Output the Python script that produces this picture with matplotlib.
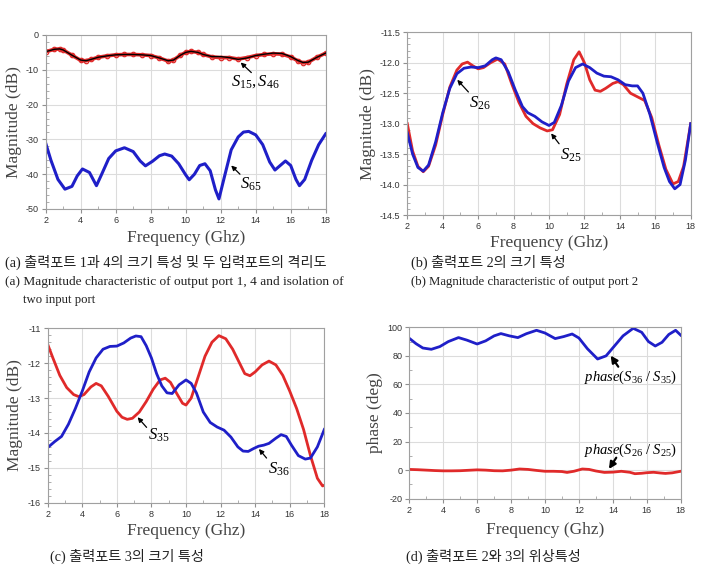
import matplotlib
matplotlib.use("Agg")
import matplotlib.pyplot as plt
from matplotlib.ticker import MultipleLocator

plt.rcParams['mathtext.fontset'] = 'custom'
plt.rcParams['mathtext.it'] = 'Liberation Serif:italic'
plt.rcParams['mathtext.rm'] = 'Liberation Serif'
plt.rcParams['font.family'] = ['Liberation Sans', 'DejaVu Sans']

RED = '#e02a2a'
BLUE = '#1f1fc8'

# ---------------- data ----------------
# (a)
fa15 = [2.0, 2.5, 2.8, 3.0, 3.5, 4.0, 4.3, 4.6, 5.0, 5.5, 6.0, 6.5, 7.0, 7.5, 8.0, 8.5, 9.0, 9.3, 9.7,
        10.0, 10.3, 10.7, 11.0, 11.5, 12.0, 12.5, 13.0, 13.5, 14.0, 14.5, 15.0, 15.5, 16.0, 16.4, 16.7,
        17.0, 17.5, 18.0]
s15 = [-4.8, -4.1, -4.0, -4.3, -5.8, -7.3, -7.4, -7.0, -6.4, -6.0, -5.7, -5.6, -5.6, -5.7, -5.9, -6.6,
       -7.5, -7.2, -5.8, -5.0, -4.7, -5.0, -5.6, -6.3, -6.5, -6.5, -6.9, -6.5, -5.9, -5.6, -5.4, -5.5,
       -6.3, -7.4, -8.0, -7.8, -6.4, -5.2]
s46 = [-4.8, -4.1, -4.0, -4.3, -5.8, -7.2, -7.4, -7.0, -6.4, -6.0, -5.7, -5.6, -5.6, -5.7, -5.9, -6.6,
       -7.4, -7.2, -5.8, -5.0, -4.7, -5.0, -5.6, -6.2, -6.2, -6.5, -7.0, -6.6, -5.9, -5.5, -5.2, -5.3,
       -6.2, -7.3, -7.9, -7.8, -6.4, -5.2]
fa65 = [2.0, 2.3, 2.7, 3.1, 3.5, 3.8, 4.1, 4.5, 4.9, 5.2, 5.6, 6.0, 6.5, 7.0, 7.4, 7.7, 8.1, 8.5, 8.8,
        9.2, 9.6, 10.0, 10.2, 10.5, 10.8, 11.1, 11.4, 11.7, 11.9, 12.2, 12.6, 13.0, 13.3, 13.6, 14.0,
        14.4, 14.8, 15.1, 15.4, 15.7, 16.0, 16.3, 16.5, 16.8, 17.2, 17.6, 18.0]
s65 = [-31.1, -36.0, -41.5, -44.3, -43.5, -40.5, -38.5, -39.5, -43.3, -40.0, -35.5, -33.3, -32.4, -33.5,
       -36.2, -37.6, -36.3, -34.7, -34.2, -34.8, -37.0, -40.2, -41.6, -40.0, -37.5, -37.0, -39.0, -44.5,
       -47.1, -41.0, -33.0, -29.3, -27.9, -27.7, -28.7, -31.5, -36.5, -38.8, -37.5, -36.2, -37.5, -41.5,
       -43.3, -41.5, -36.0, -31.5, -28.4]

# (b)
fb25 = [2, 2.3, 2.6, 2.9, 3.2, 3.6, 4.0, 4.4, 4.8, 5.1, 5.4, 5.7, 6.0, 6.3, 6.7, 7.1, 7.5, 7.9, 8.3, 8.7,
        9.1, 9.5, 9.9, 10.2, 10.6, 11.0, 11.4, 11.7, 12.0, 12.3, 12.6, 12.9, 13.2, 13.6, 13.9, 14.2, 14.6,
        15.0, 15.4, 15.8, 16.2, 16.6, 17.0, 17.3, 17.6, 18.0]
s25 = [-13.0, -13.45, -13.7, -13.79, -13.7, -13.35, -12.85, -12.4, -12.12, -12.02, -11.99, -12.05, -12.1,
       -12.08, -12.0, -11.94, -12.02, -12.35, -12.65, -12.88, -13.0, -13.07, -13.12, -13.1, -12.85, -12.35,
       -11.95, -11.82, -12.0, -12.28, -12.45, -12.47, -12.42, -12.34, -12.31, -12.36, -12.5, -12.56,
       -12.62, -12.9, -13.35, -13.75, -13.99, -13.95, -13.7, -13.0]
fb26 = [2, 2.3, 2.6, 2.9, 3.2, 3.6, 4.0, 4.4, 4.8, 5.2, 5.6, 6.0, 6.4, 6.8, 7.0, 7.3, 7.7, 8.1, 8.5, 8.8,
        9.2, 9.6, 10.0, 10.3, 10.7, 11.1, 11.5, 11.9, 12.3, 12.7, 13.1, 13.5, 13.9, 14.3, 14.7, 15.0, 15.3,
        15.7, 16.1, 16.5, 16.8, 17.1, 17.4, 17.7, 18.0]
s26 = [-13.15, -13.5, -13.72, -13.78, -13.68, -13.3, -12.82, -12.42, -12.18, -12.09, -12.07, -12.08,
       -12.05, -11.95, -11.92, -11.95, -12.15, -12.45, -12.72, -12.82, -12.88, -12.97, -13.03, -12.98,
       -12.7, -12.3, -12.08, -12.02, -12.08, -12.17, -12.22, -12.23, -12.28, -12.36, -12.38, -12.38,
       -12.5, -12.85, -13.3, -13.72, -13.95, -14.07, -14.0, -13.6, -13.0]

# (c)
fc35 = [2, 2.3, 2.7, 3.1, 3.5, 3.8, 4.1, 4.5, 4.8, 5.1, 5.5, 6.0, 6.3, 6.6, 6.9, 7.3, 7.7, 8.1, 8.5, 8.8,
        9.1, 9.5, 9.8, 10.0, 10.3, 10.7, 11.1, 11.5, 11.9, 12.3, 12.7, 13.1, 13.4, 13.7, 14.0, 14.4, 14.8,
        15.2, 15.6, 16.0, 16.4, 16.8, 17.2, 17.6, 17.9, 18.0]
s35 = [-11.46, -11.85, -12.35, -12.7, -12.9, -12.96, -12.9, -12.68, -12.58, -12.65, -12.95, -13.38,
       -13.55, -13.61, -13.58, -13.4, -13.1, -12.75, -12.48, -12.43, -12.55, -12.9, -13.15, -13.2, -13.0,
       -12.4, -11.8, -11.4, -11.21, -11.3, -11.6, -12.0, -12.3, -12.36, -12.25, -12.05, -11.94, -12.05,
       -12.35, -12.8, -13.3, -13.9, -14.65, -15.3, -15.52, -15.5]
fc36 = [2, 2.4, 2.8, 3.2, 3.6, 4.0, 4.4, 4.8, 5.2, 5.6, 6.0, 6.4, 6.8, 7.1, 7.4, 7.7, 8.0, 8.3, 8.6, 8.9,
        9.2, 9.6, 10.0, 10.3, 10.6, 11.0, 11.4, 11.8, 12.2, 12.6, 13.0, 13.3, 13.6, 13.9, 14.2, 14.5, 14.8,
        15.2, 15.5, 15.8, 16.1, 16.5, 16.9, 17.2, 17.6, 18.0]
s36 = [-14.42, -14.25, -14.1, -13.75, -13.3, -12.8, -12.25, -11.85, -11.6, -11.52, -11.51, -11.42,
       -11.28, -11.22, -11.24, -11.5, -11.85, -12.3, -12.65, -12.85, -12.87, -12.62, -12.48, -12.58,
       -12.85, -13.4, -13.7, -13.83, -13.92, -14.12, -14.4, -14.52, -14.53, -14.45, -14.38, -14.35,
       -14.3, -14.15, -14.05, -14.1, -14.35, -14.65, -14.75, -14.72, -14.4, -13.9]

# (d)
fd36 = [2, 2.4, 2.8, 3.3, 3.8, 4.3, 4.9, 5.4, 6.0, 6.5, 7.0, 7.4, 7.9, 8.4, 8.9, 9.5, 10.0, 10.6, 11.1,
        11.6, 12.0, 12.5, 13.1, 13.6, 14.1, 14.6, 15.2, 15.7, 16.1, 16.5, 16.9, 17.3, 17.7, 18.0]
ph36 = [92.3, 88.5, 85.5, 84.6, 86.5, 90.0, 92.8, 91.0, 88.3, 90.5, 94.0, 95.6, 94.0, 92.8, 95.5, 97.9,
        96.0, 92.1, 93.5, 95.3, 92.5, 85.0, 77.8, 80.0, 87.0, 94.0, 99.3, 96.5, 90.0, 86.9, 89.5, 95.0,
        97.9, 94.5]
fd26 = [2, 2.5, 3, 3.5, 4, 4.5, 5, 5.5, 6, 6.5, 7, 7.5, 8, 8.5, 9, 9.5, 10, 10.5, 11, 11.3, 11.7, 12.2,
        12.6, 13.0, 13.5, 14.0, 14.5, 15.0, 15.3, 15.7, 16.0, 16.4, 16.8, 17.1, 17.5, 18.0]
ph26 = [0.5, 0.3, 0, -0.3, -0.5, -0.5, -0.4, -0.1, 0.2, 0, -0.4, -0.5, 0, 0.8, 0.5, -0.2, -0.8, -0.8,
        -1.0, -1.6, -0.8, 0.8, 0.5, -0.6, -1.6, -1.4, -0.8, -1.5, -2.5, -2.2, -1.8, -1.5, -2.0, -2.3,
        -1.9, -0.8]

xticks = [2, 4, 6, 8, 10, 12, 14, 16, 18]

W, H = 703, 571
fig = plt.figure(figsize=(W / 100, H / 100), dpi=100)


def make_ax(l, t, r, b):
    return fig.add_axes([l / W, 1 - b / H, (r - l) / W, (b - t) / H])


def style(ax, ylim, ymaj, ymin, ylabel, xpad=3):
    ax.set_xlim(2, 18)
    ax.set_ylim(*ylim)
    ax.set_xticks(xticks)
    ax.xaxis.set_minor_locator(MultipleLocator(1))
    ax.yaxis.set_major_locator(MultipleLocator(ymaj))
    ax.yaxis.set_minor_locator(MultipleLocator(ymin))
    ax.grid(True, which='major', color='#dcdcdc', lw=0.8)
    ax.set_axisbelow(True)
    for s in ax.spines.values():
        s.set_color('#a0a0a0')
        s.set_linewidth(0.8)
    ax.tick_params(which='major', direction='out', length=3, color='#909090', labelsize=6.5,
                   pad=2, labelcolor='#333333')
    ax.tick_params(which='minor', direction='in', length=2, color='#a0a0a0')
    ax.set_xlabel('Frequency (Ghz)', family='Liberation Serif', fontsize=12.5, color='#444444',
                  labelpad=xpad)
    ax.set_ylabel(ylabel, family='Liberation Serif', fontsize=12.5, color='#444444', labelpad=3)


def arrow(ax, tip, tail, lw=0.9, ms=7):
    ax.annotate('', xy=tip, xytext=tail,
                arrowprops=dict(arrowstyle='-|>', color='black', lw=lw, mutation_scale=ms,
                                shrinkA=0, shrinkB=0))


# (a)
axa = make_ax(45.7, 35, 325.7, 209)
axa.plot(fa15, s15, color=RED, lw=2.6, marker='o', ms=3.2, mfc='none', mec=RED, mew=0.9)
axa.plot(fa15, s46, color='black', lw=1.0)
axa.plot(fa65, s65, color=BLUE, lw=2.2)
style(axa, (-50, 0), 10, 2, 'Magnitude (dB)', xpad=4)
axa.set_yticks([-50, -40, -30, -20, -10, 0])
axa.set_yticklabels(['-50', '-40', '-30', '-20', '-10', '0'])
arrow(axa, (13.14, -7.9), (13.75, -10.8))
axa.text(12.6, -13.4, r'$S_{15}, S_{46}$', fontsize=12, va='center', ha='left')
arrow(axa, (12.6, -37.5), (13.1, -40.0))
axa.text(13.1, -42.8, r'$S_{65}$', fontsize=12, va='center', ha='left')

# (b)
axb = make_ax(407.3, 32.3, 690.7, 215)
axb.plot(fb25, s25, color=RED, lw=2.0)
axb.plot(fb26, s26, color=BLUE, lw=2.0)
style(axb, (-14.5, -11.5), 0.5, 0.1, 'Magnitude (dB)', xpad=3)
axb.set_yticks([-14.5, -14.0, -13.5, -13.0, -12.5, -12.0, -11.5])
axb.set_yticklabels(['-14.5', '-14.0', '-13.5', '-13.0', '-12.5', '-12.0', '-11.5'])
arrow(axb, (4.82, -12.28), (5.45, -12.48))
axb.text(5.5, -12.66, r'$S_{26}$', fontsize=12, va='center', ha='left')
arrow(axb, (10.12, -13.16), (10.57, -13.33))
axb.text(10.6, -13.52, r'$S_{25}$', fontsize=12, va='center', ha='left')

# (c)
axc = make_ax(47.7, 328.3, 324.3, 502.7)
axc.plot(fc35, s35, color=RED, lw=2.0)
axc.plot(fc36, s36, color=BLUE, lw=2.0)
style(axc, (-16, -11), 1, 0.2, 'Magnitude (dB)', xpad=3)
axc.set_yticks([-16, -15, -14, -13, -12, -11])
axc.set_yticklabels(['-16', '-15', '-14', '-13', '-12', '-11'])
arrow(axc, (7.2, -13.55), (7.72, -13.84))
axc.text(7.8, -14.08, r'$S_{35}$', fontsize=12, va='center', ha='left')
arrow(axc, (14.22, -14.46), (14.66, -14.72))
axc.text(14.75, -15.05, r'$S_{36}$', fontsize=12, va='center', ha='left')

# (d)
axd = make_ax(409.3, 327.3, 680.7, 498.7)
axd.plot(fd36, ph36, color=BLUE, lw=2.0)
axd.plot(fd26, ph26, color=RED, lw=2.0)
style(axd, (-20, 100), 20, 10, 'phase (deg)', xpad=5)
axd.set_yticks([-20, 0, 20, 40, 60, 80, 100])
axd.set_yticklabels(['-20', '0', '20', '40', '60', '80', '100'])
arrow(axd, (13.87, 80.2), (14.32, 72.4), lw=1.6, ms=10)
axd.text(12.3, 65.0, r'$phase(S_{36}\ /\ S_{35})$', fontsize=10.5, va='center', ha='left')
arrow(axd, (13.77, 0.8), (14.2, 8.7), lw=1.6, ms=10)
axd.text(12.3, 14.1, r'$phase(S_{26}\ /\ S_{25})$', fontsize=10.5, va='center', ha='left')

# captions
cap_font = ['Liberation Serif', 'Noto Sans CJK KR']
fig.text(5 / W, 1 - 262 / H, '(a) 출력포트 1과 4의 크기 특성 및 두 입력포트의 격리도',
         family=cap_font, fontsize=10.2, va='center', ha='left', color='#222222')
fig.text(5 / W, 1 - 282 / H, '(a) Magnitude characteristic of output port 1, 4 and isolation of',
         family='Liberation Serif', fontsize=9.6, va='center', ha='left', color='#222222')
fig.text(23 / W, 1 - 300 / H, 'two input port',
         family='Liberation Serif', fontsize=9.2, va='center', ha='left', color='#222222')
fig.text(411 / W, 1 - 262 / H, '(b) 출력포트 2의 크기 특성',
         family=cap_font, fontsize=10.2, va='center', ha='left', color='#222222')
fig.text(411 / W, 1 - 282 / H, '(b) Magnitude characteristic of output port 2',
         family='Liberation Serif', fontsize=9.2, va='center', ha='left', color='#222222')
fig.text(50 / W, 1 - 556 / H, '(c) 출력포트 3의 크기 특성',
         family=cap_font, fontsize=10.2, va='center', ha='left', color='#222222')
fig.text(406 / W, 1 - 556 / H, '(d) 출력포트 2와 3의 위상특성',
         family=cap_font, fontsize=10.2, va='center', ha='left', color='#222222')

fig.savefig('out.png', dpi=100)
